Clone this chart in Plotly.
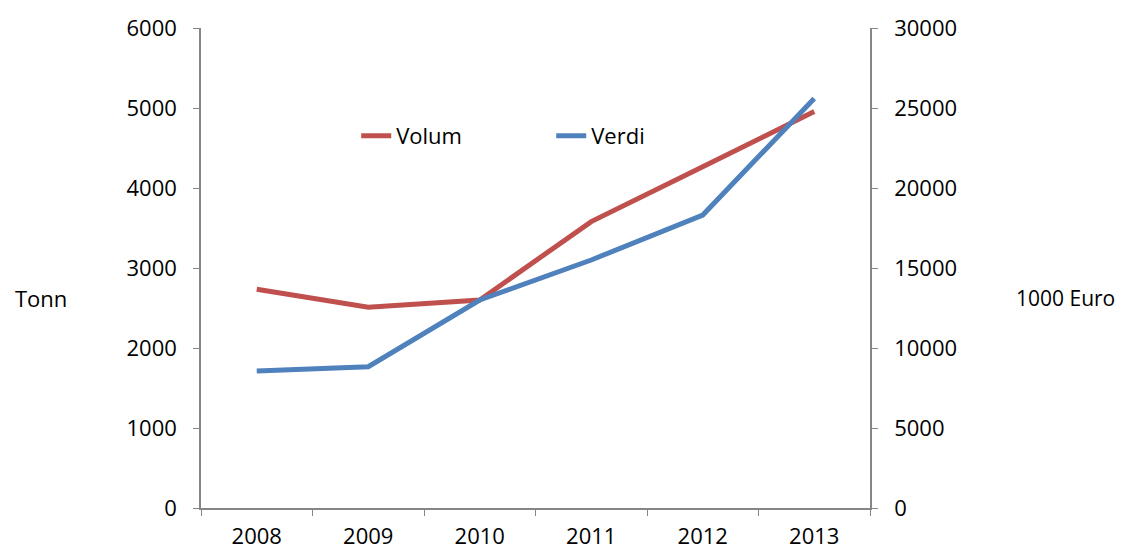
import plotly.graph_objects as go

years = ['2008', '2009', '2010', '2011', '2012', '2013']
volum = [2735, 2510, 2600, 3580, 4265, 4955]      # Tonn (left axis)
verdi = [8560, 8830, 13000, 15500, 18310, 25600]  # 1000 Euro (right axis)

FONT = 'Open Sans'
FS = 22
AXIS_COL = '#868686'

fig = go.Figure()
fig.add_trace(go.Scatter(x=years, y=volum, name='Volum', mode='lines',
                         line=dict(color='#C0504D', width=5)))
fig.add_trace(go.Scatter(x=years, y=verdi, name='Verdi', mode='lines', yaxis='y2',
                         line=dict(color='#4F81BD', width=5)))

axis_common = dict(showgrid=False, zeroline=False, showline=True, linecolor=AXIS_COL,
                   linewidth=1.5, ticks='outside', ticklen=6, tickcolor=AXIS_COL,
                   automargin=False, tickformat='d',
                   tickfont=dict(family=FONT, size=FS, color='black'))

# the page body has an 8px margin, so the figure is 8px smaller each way
fig.update_layout(
    width=1117, height=543,
    margin=dict(l=193, r=255, t=20, b=43),
    paper_bgcolor='white', plot_bgcolor='white',
    font=dict(family=FONT, size=FS, color='black'),
    xaxis=dict(type='category', tickson='boundaries', ticklabelstandoff=8,
               range=[-0.5, 5.5], **axis_common),
    yaxis=dict(range=[0, 6000], dtick=1000, ticklabelstandoff=12, **axis_common),
    yaxis2=dict(range=[0, 30000], dtick=5000, overlaying='y', side='right',
                ticklabelstandoff=12, **axis_common),
    legend=dict(orientation='h', x=0.232, y=0.775, xanchor='left', yanchor='middle',
                entrywidth=150, entrywidthmode='pixels',
                font=dict(family=FONT, size=FS), bgcolor='rgba(0,0,0,0)'),
    annotations=[
        dict(text='Tonn', xref='paper', yref='paper', x=-0.281, y=0.438,
             xanchor='left', yanchor='middle', showarrow=False,
             font=dict(family=FONT, size=FS)),
        dict(text='1000 Euro', xref='paper', yref='paper', x=1.215, y=0.438,
             xanchor='left', yanchor='middle', showarrow=False,
             font=dict(family=FONT, size=21)),
    ],
)

fig.write_html('out.html')
